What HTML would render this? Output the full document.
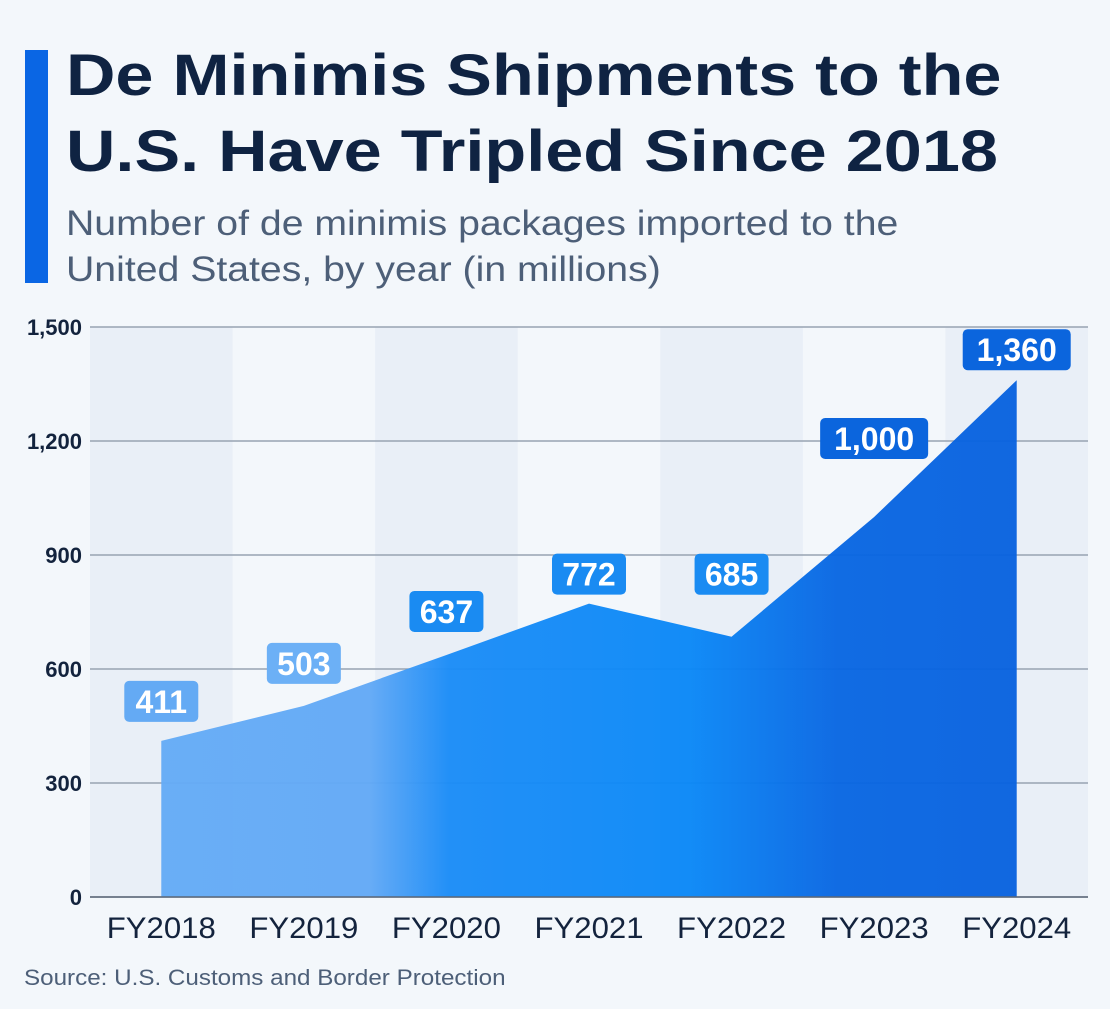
<!DOCTYPE html>
<html><head><meta charset="utf-8"><style>
body{margin:0;width:1110px;height:1009px;background:#f3f7fb;font-family:"Liberation Sans",sans-serif;overflow:hidden;position:relative}
.bar{position:absolute;left:25px;top:50px;width:23px;height:233px;background:#0a66e4}
h1{position:absolute;left:66px;top:38px;margin:0;font-size:58px;line-height:76px;font-weight:bold;color:#0f2342;transform:scaleX(1.18);transform-origin:left top;white-space:nowrap}
.sub{position:absolute;left:66px;top:201px;font-size:35px;line-height:46px;color:#4d5f78;transform:scaleX(1.12);transform-origin:left top;white-space:nowrap}
.src{position:absolute;left:24px;top:965px;font-size:22px;color:#4d5f78;transform:scaleX(1.1);transform-origin:left top;white-space:nowrap}
svg{position:absolute;left:0;top:0}
</style></head><body>
<div class="bar"></div>
<h1>De Minimis Shipments to the<br>U.S. Have Tripled Since 2018</h1>
<div class="sub">Number of de minimis packages imported to the<br>United States, by year (in millions)</div>
<svg id="chart" width="1110" height="1009">
<defs><linearGradient id="g" x1="90" x2="1088" y1="0" y2="0" gradientUnits="userSpaceOnUse">
<stop offset="0" stop-color="#65acf6"/><stop offset="0.28" stop-color="#62a9f6"/><stop offset="0.36" stop-color="#1a8cf7"/><stop offset="0.6" stop-color="#0a88f7"/><stop offset="0.75" stop-color="#0866e2"/><stop offset="1" stop-color="#0860de"/></linearGradient></defs>
</svg>
<div class="src">Source: U.S. Customs and Border Protection</div>
<script>
const categories=["FY2018","FY2019","FY2020","FY2021","FY2022","FY2023","FY2024"];
const values=[411,503,637,772,685,1000,1360];
const labels=["411","503","637","772","685","1,000","1,360"];
const yTicks=[0,300,600,900,1200,1500];
const yTickLabels=["0","300","600","900","1,200","1,500"];
const labelColors=["#64aaf4","#6cb0f6","#1a8bf2","#1a8bf2","#1a8bf2","#0b65dd","#0b65dd"];
const labelGap=[19,22,23,9,42,58,10];
const svg=document.getElementById('chart');const NS="http://www.w3.org/2000/svg";
const x0=90,x1=1088,y0=897,y1=327,ymax=1500;
const bw=(x1-x0)/categories.length;
const X=i=>x0+bw*(i+0.5);const Y=v=>y0-(v/ymax)*(y0-y1);
function mk(t,a,p){const e=document.createElementNS(NS,t);for(const k in a)e.setAttribute(k,a[k]);(p||svg).appendChild(e);return e;}
categories.forEach((c,i)=>{if(i%2==0){const r=mk('rect',{x:x0+bw*i,y:y1,width:bw,height:y0-y1,fill:'#e9eff7'});

}});
yTicks.forEach((t,i)=>{const l=mk('line',{x1:x0,x2:x1,y1:Y(t),y2:Y(t),stroke:'#98a3b2','stroke-width':1.5});


const tx=mk('text',{x:82,y:Y(t)+8,'text-anchor':'end','font-size':22,'font-weight':'bold',fill:'#13233d'});tx.textContent=yTickLabels[i];

});
let d=`M${X(0)},${Y(0)}`;values.forEach((v,i)=>d+=` L${X(i)},${Y(v)}`);d+=` L${X(values.length-1)},${Y(0)} Z`;
const a=mk('path',{d:d,fill:'url(#g)','fill-opacity':0.96});


const base=mk('line',{x1:x0,x2:x1,y1:y0,y2:y0,stroke:'#5d6878','stroke-width':1.5});


categories.forEach((c,i)=>{const t=mk('text',{x:X(i),y:938,'text-anchor':'middle','font-size':30,fill:'#13233d',textLength:109,lengthAdjust:'spacingAndGlyphs'});t.textContent=c;


const w=labels[i].length>3?108:74;const by=Y(values[i])-labelGap[i]-41;
const g=mk('g',{});


mk('rect',{x:X(i)-w/2,y:by,width:w,height:41,rx:5,fill:labelColors[i]},g);
const vt=mk('text',{x:X(i),y:by+32,'text-anchor':'middle','font-size':32,'font-weight':'bold',fill:'#fff'},g);vt.textContent=labels[i];});
</script>
</body></html>
